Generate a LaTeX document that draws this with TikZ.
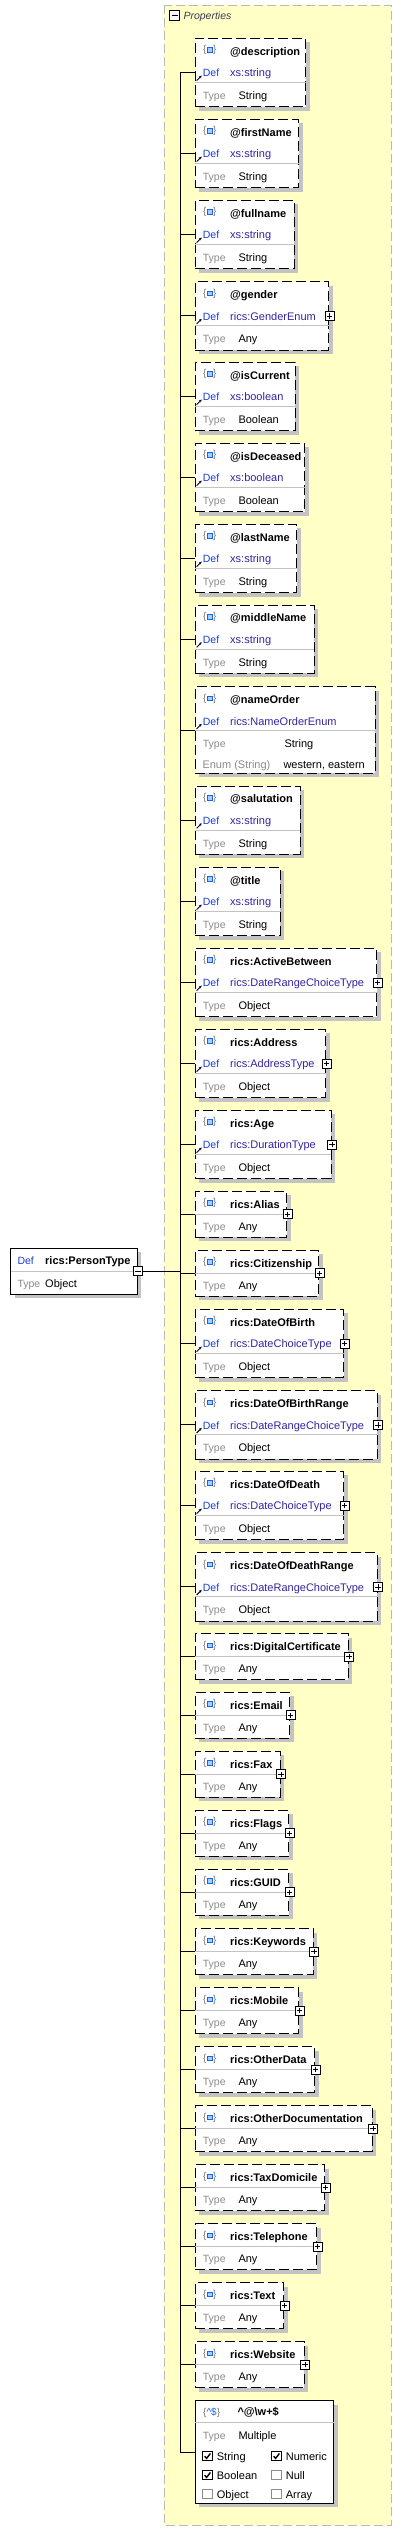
\documentclass[tikz,border=0pt]{standalone}
\usepackage{fontspec}
\setmainfont{Liberation Sans}
\usetikzlibrary{arrows.meta}
\definecolor{yel}{RGB}{255,255,198}
\definecolor{contgrey}{RGB}{185,185,185}
\definecolor{shadowgrey}{RGB}{195,195,195}
\definecolor{sepgrey}{RGB}{195,195,195}
\definecolor{defblue}{RGB}{25,60,215}
\definecolor{typeblue}{RGB}{55,35,160}
\definecolor{lblgrey}{RGB}{140,140,140}
\definecolor{bracegrey}{RGB}{120,120,120}
\definecolor{iconblue}{RGB}{20,100,235}
\definecolor{iconfill}{RGB}{170,205,255}
\definecolor{propcol}{RGB}{60,60,85}
\newcommand{\fsA}{\fontsize{11}{13}\selectfont}
\newcommand{\fsB}{\fontsize{10.5}{12}\selectfont}
\newcommand{\fsC}{\fontsize{10}{12}\selectfont}
\tikzset{
  pbox/.style={draw=black, line width=1pt, dash pattern=on 10pt off 4pt, fill=white, inner sep=0, outer sep=0, anchor=north west},
  sbox/.style={draw=black, line width=1pt, fill=white, inner sep=0, outer sep=0, anchor=north west},
  shad/.style={fill=shadowgrey, draw=none},
  conn/.style={draw=black, line width=1pt},
  sepline/.style={draw=sepgrey, line width=0.8pt},
  ttl/.style={font=\fsA\bfseries, text=black, anchor=base west, inner sep=0},
  dfl/.style={font=\fsB, text=defblue, anchor=base west, inner sep=0},
  dfv/.style={font=\fsA, text=typeblue, anchor=base west, inner sep=0},
  tyl/.style={font=\fsB, text=lblgrey, anchor=base west, inner sep=0},
  tyv/.style={font=\fsA, text=black, anchor=base west, inner sep=0},
  brc/.style={font=\fsC, text=bracegrey, anchor=center, inner sep=0},
  sq/.style={draw=iconblue, fill=iconfill, line width=0.9pt, minimum width=5pt, minimum height=4.5pt, inner sep=0},
  defarr/.style={draw=black, line width=0.9pt, -{Stealth[length=2.6pt,width=2.8pt]}},
  plusb/.style={draw=black, fill=white, line width=0.8pt, minimum size=9pt, inner sep=0, outer sep=0},
  cbon/.style={draw=black, fill=white, line width=0.8pt, minimum size=9.5pt, inner sep=0},
  cboff/.style={draw=lblgrey, fill=white, line width=0.8pt, minimum size=9.5pt, inner sep=0},
  chk/.style={draw=black, line width=1.4pt},
  cont/.style={draw=contgrey, line width=1pt, dash pattern=on 9pt off 4pt, fill=yel}
}
\newcommand{\hicon}[2]{%
  \node[brc] (#1-b1) at (204.7,#2+11.8) {\{};
  \node[brc] (#1-b2) at (214.7,#2+11.8) {\}};
  \node[sq] (#1-sq) at (209.7,#2+11.8) {};
}
\newcommand{\plusat}[3]{%
  \node[plusb] (#1) at (#2,#3) {};
  \draw[line width=0.8pt] ([xshift=1.8pt]#1.west) -- ([xshift=-1.8pt]#1.east);
  \draw[line width=0.8pt] ([yshift=-1.8pt]#1.north) -- ([yshift=1.8pt]#1.south);
}
\newcommand{\tribox}[7]{%
  \fill[shad] (199.3,#2+4) rectangle (#3+4,#2+72.3);
  \node[pbox, minimum width=#3-195.3, minimum height=68.3] (#1) at (195.3,#2) {};
  \hicon{#1}{#2}
  \node[ttl] (#1-t) at (230,#2+16.7) {#4};
  \draw[defarr] (196.6,#2+42.3) -- (201.6,#2+37.3);
  \node[dfl] (#1-d) at (202.7,#2+38.3) {Def};
  \node[dfv] (#1-dv) at (230,#2+38.3) {#5};
  \draw[sepline] (195.3,#2+44) -- (#3,#2+44);
  \node[tyl] (#1-y) at (202.7,#2+61) {Type};
  \node[tyv] (#1-yv) at (238.3,#2+61) {#6};
  \ifnum#7=1 \plusat{#1-p}{#3+1}{#2+34.3}\fi
}
\newcommand{\twobox}[5]{%
  \fill[shad] (199.3,#2+4) rectangle (#3+4,#2+50);
  \node[pbox, minimum width=#3-195.3, minimum height=46] (#1) at (195.3,#2) {};
  \hicon{#1}{#2}
  \node[ttl] (#1-t) at (230,#2+16.7) {#4};
  \draw[sepline] (195.3,#2+22.7) -- (#3,#2+22.7);
  \node[tyl] (#1-y) at (202.7,#2+39) {Type};
  \node[tyv] (#1-yv) at (238.3,#2+39) {#5};
  \plusat{#1-p}{#3+1}{#2+23}
}
\newcommand{\cbx}[5]{% name x y checked label
  \ifnum#4=1
    \node[cbon] (#1) at (#2,#3) {};
    \draw[chk] (#2-2.8,#3+0.2) -- (#2-0.9,#3+2.4) -- (#2+2.9,#3-2.6);
  \else
    \node[cboff] (#1) at (#2,#3) {};
  \fi
  \node[tyv] (#1-l) at (#2+9.2,#3+4) {#5};
}
\begin{document}
\begin{tikzpicture}[x=1pt,y=-1pt]
\useasboundingbox (0,0) rectangle (402,2532);
% container
\draw[cont] (164,5.3) rectangle (391.5,2525);
\node[plusb, minimum size=10pt] (pm) at (174.7,15.7) {};
\draw[line width=0.8pt] ([xshift=1.8pt]pm.west) -- ([xshift=-1.8pt]pm.east);
\node[font=\fsB\itshape, text=propcol, anchor=base west, inner sep=0] (plbl) at (183.3,19.6) {Properties};
\coordinate (tr) at (180,0);
% root
\fill[shad] (14.7,1252) rectangle (141.3,1298);
\node[sbox, minimum width=126.6, minimum height=46] (root) at (10.7,1248) {};
\node[dfl] (root-d) at (17.3,1264.7) {Def};
\node[ttl] (root-dv) at (45,1264.7) {rics:PersonType};
\draw[sepline] (10.7,1271) -- (137.3,1271);
\node[tyl] (root-y) at (17.3,1287) {Type};
\node[tyv] (root-yv) at (45,1287) {Object};
\node[plusb] (root-m) at (138,1271) {};
\draw[line width=0.8pt] ([xshift=1.8pt]root-m.west) -- ([xshift=-1.8pt]root-m.east);
% boxes
\tribox{desc}{38.3}{305.7}{@description}{xs:string}{String}{0}
\tribox{first}{119.3}{298.7}{@firstName}{xs:string}{String}{0}
\tribox{full}{200.3}{294}{@fullname}{xs:string}{String}{0}
\tribox{gender}{281.7}{328.7}{@gender}{rics:GenderEnum}{Any}{1}
\tribox{iscur}{362.3}{295}{@isCurrent}{xs:boolean}{Boolean}{0}
\tribox{isdec}{443.3}{304.7}{@isDeceased}{xs:boolean}{Boolean}{0}
\tribox{last}{524.3}{296.7}{@lastName}{xs:string}{String}{0}
\tribox{middle}{605}{314.3}{@middleName}{xs:string}{String}{0}
% nameOrder
\fill[shad] (199.3,690.7) rectangle (379,777.3);
\node[pbox, minimum width=179.7, minimum height=86.6] (norder) at (195.3,686.7) {};
\hicon{norder}{686.7}
\node[ttl] (norder-t) at (230,703) {@nameOrder};
\draw[defarr] (196.6,729) -- (201.6,724);
\node[dfl] (norder-d) at (202.7,725) {Def};
\node[dfv] (norder-dv) at (230,725) {rics:NameOrderEnum};
\draw[sepline] (195.3,730.3) -- (375,730.3);
\node[tyl] (norder-y) at (202.7,747.3) {Type};
\node[tyv] (norder-yv) at (284.3,747.3) {String};
\node[font=\fsA, text=lblgrey, anchor=base west, inner sep=0] (norder-e) at (202.3,768) {Enum (String)};
\node[tyv] (norder-ev) at (283.3,768) {western, eastern};
\tribox{salut}{786}{300}{@salutation}{xs:string}{String}{0}
\tribox{title}{867.3}{280}{@title}{xs:string}{String}{0}
\tribox{active}{948.3}{376.7}{rics:ActiveBetween}{rics:DateRangeChoiceType}{Object}{1}
\tribox{address}{1029.3}{325.7}{rics:Address}{rics:AddressType}{Object}{1}
\tribox{age}{1110.3}{331}{rics:Age}{rics:DurationType}{Object}{1}
\twobox{alias}{1191.3}{286.7}{rics:Alias}{Any}
\twobox{citizen}{1250.3}{318.7}{rics:Citizenship}{Any}
\tribox{dob}{1309.3}{343.7}{rics:DateOfBirth}{rics:DateChoiceType}{Object}{1}
\tribox{dobr}{1390.7}{377}{rics:DateOfBirthRange}{rics:DateRangeChoiceType}{Object}{1}
\tribox{dod}{1471.3}{343.7}{rics:DateOfDeath}{rics:DateChoiceType}{Object}{1}
\tribox{dodr}{1552.7}{377}{rics:DateOfDeathRange}{rics:DateRangeChoiceType}{Object}{1}
\twobox{digi}{1633.7}{348}{rics:DigitalCertificate}{Any}
\twobox{email}{1692.3}{289.7}{rics:Email}{Any}
\twobox{fax}{1751.3}{280}{rics:Fax}{Any}
\twobox{flags}{1810.3}{288.7}{rics:Flags}{Any}
\twobox{guid}{1869.3}{288.7}{rics:GUID}{Any}
\twobox{kw}{1928.7}{313}{rics:Keywords}{Any}
\twobox{mobile}{1987.7}{298.7}{rics:Mobile}{Any}
\twobox{odata}{2046.7}{314.7}{rics:OtherData}{Any}
\twobox{odoc}{2105.7}{372}{rics:OtherDocumentation}{Any}
\twobox{tax}{2164.7}{324.7}{rics:TaxDomicile}{Any}
\twobox{tel}{2223.7}{316.7}{rics:Telephone}{Any}
\twobox{text}{2282.7}{283.7}{rics:Text}{Any}
\twobox{web}{2341.7}{304}{rics:Website}{Any}
% pattern property
\fill[shad] (199.3,2404.7) rectangle (337.7,2507.3);
\node[sbox, minimum width=138.4, minimum height=102.6] (pat) at (195.3,2400.7) {};
\node[font=\fsC, anchor=base west, inner sep=0] (pat-i) at (203,2415.3) {{\color{bracegrey}\{}{\color{iconblue}\textasciicircum\$}{\color{bracegrey}\}}};
\node[ttl] (pat-t) at (237.3,2415.7) {\textasciicircum @\textbackslash w+\$};
\draw[sepline] (195.3,2422) -- (333.7,2422);
\node[tyl] (pat-y) at (202.7,2439.3) {Type};
\node[tyv] (pat-yv) at (238.3,2439.3) {Multiple};
\cbx{cb1}{207.5}{2456}{1}{String}
\cbx{cb2}{276.5}{2456}{1}{Numeric}
\cbx{cb3}{207.5}{2475}{1}{Boolean}
\cbx{cb4}{276.5}{2475}{0}{Null}
\cbx{cb5}{207.5}{2494}{0}{Object}
\cbx{cb6}{276.5}{2494}{0}{Array}
% connectors
\draw[conn] (tr |- desc.west) -- (tr |- pat.west) -- (pat.west);
\foreach \n in {desc,first,full,gender,iscur,isdec,last,middle,norder,salut,title,active,address,age,alias,citizen,dob,dobr,dod,dodr,digi,email,fax,flags,guid,kw,mobile,odata,odoc,tax,tel,text,web}
  \draw[conn] (tr |- \n.west) -- (\n.west);
\draw[conn] (root-m.east) -- (tr |- root-m.east);
\end{tikzpicture}
\end{document}
